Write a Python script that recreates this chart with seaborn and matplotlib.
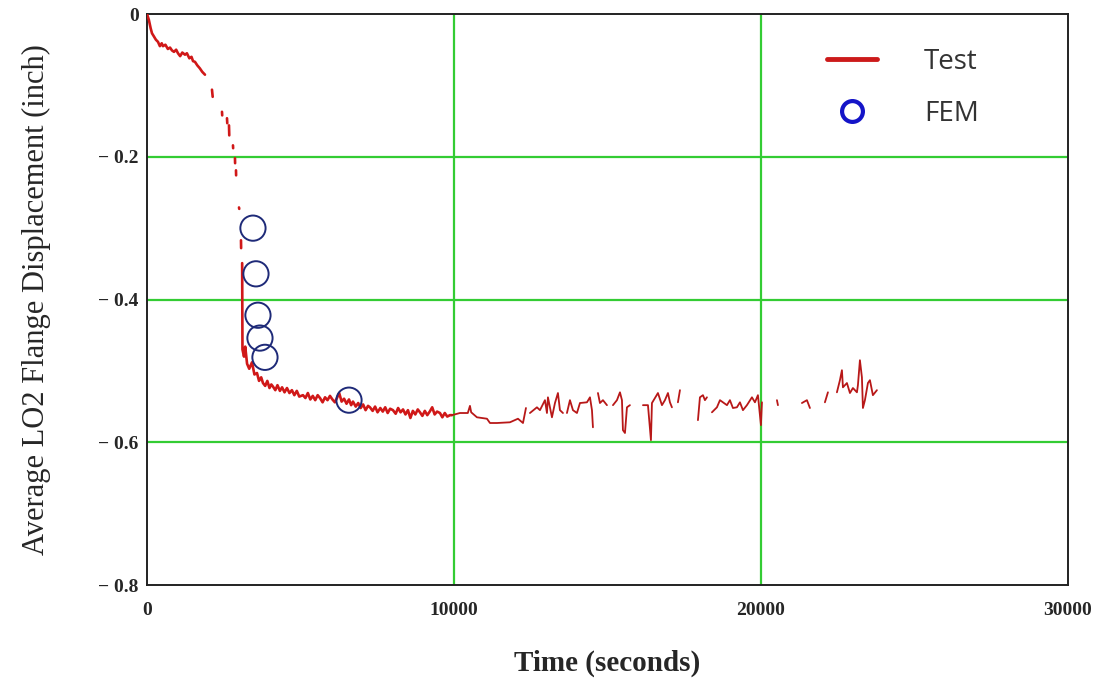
import numpy as np
import pandas as pd
import matplotlib.pyplot as plt
import seaborn as sns
from matplotlib.lines import Line2D

nan = np.nan

# Test curve, NaN marks a gap in the record
test_time = [
    0, 60, 120, 163, 220, 290, 358, 420, 480, 521, 600, 680, 750, 814, 880, 950,
    1010, 1080, 1150, 1238, 1300, 1380, 1450, 1500, 1563, 1640, 1720, 1800, 1889, nan,
    2117, 2140, nan, 2443, 2450, nan, 2606, 2615, nan, 2671, 2680, nan,
    2801, 2806, nan, 2866, 2870, nan, 2899, 2903, nan, 2997, 3005, nan,
    3062, 3066, nan,
    3100, 3110, 3160, 3200, 3260, 3330, 3420, 3500, 3583, 3650, 3720, 3778, 3850,
    3920, 3990, 4050, 4104, 4180, 4250, 4330, 4400, 4480, 4560, 4640, 4720, 4800,
    4880, 4960, 5081, 5160, 5240, 5320, 5400, 5480, 5560, 5635, 5720, 5800, 5880,
    5960, 6040, 6120, 6188, 6260, 6340, 6420, 6500, 6580, 6650, 6710, 6800, 6880,
    6960, 7040, 7120, 7200, 7263, 7350, 7430, 7510, 7600, 7680, 7760, 7840, 7920,
    8012, 8100, 8180, 8260, 8340, 8420, 8500, 8580, 8660, 8740, 8820, 8892, 8970,
    9050, 9130, 9210, 9290, 9370, 9450, 9543, 9620, 9700, 9780, 9869, 9934,
    10194, 10450, 10520, 10560, 10748, 11074, 11172, 11400, 11823, 12084, 12247, 12344, nan,
    12474, 12702, 12800, 12963, 13028, 13060, 13191, 13289, 13386, 13451, 13549, nan,
    13679, 13777, 13875, 14005, 14103, 14331, 14429, 14494, 14526, nan,
    14689, 14754, 14852, 14982, nan,
    15178, 15308, 15406, 15471, 15503, 15569, 15634, 15731, nan,
    15985, 16000, nan,
    16155, 16318, 16415, 16448, 16546, 16643, 16774, 16871, 16969, 17034, 17099, nan,
    17294, 17360, nan,
    17946, 18011, 18109, 18174, 18239, nan,
    18402, 18565, 18663, 18760, 18891, 18988, 19086, 19216, 19314, 19412, 19542,
    19705, 19803, 19900, 19998, 20031, nan,
    20220, 20235, nan, 20519, 20552, nan, 20870, 20885, nan,
    21333, 21496, 21594, nan, 22082, 22180, nan,
    22473, 22571, 22636, 22669, 22799, 22897, 22994, 23125, 23157, 23222, 23287,
    23320, 23385, 23483, 23548, 23645, 23776,
]
test_disp = [
    0.000, -0.008, -0.020, -0.027, -0.031, -0.036, -0.039, -0.045, -0.041, -0.045,
    -0.043, -0.049, -0.047, -0.051, -0.053, -0.050, -0.055, -0.059, -0.054, -0.057,
    -0.055, -0.062, -0.060, -0.066, -0.067, -0.072, -0.076, -0.081, -0.085, nan,
    -0.106, -0.116, nan, -0.137, -0.142, nan, -0.146, -0.153, nan, -0.156, -0.170, nan,
    -0.184, -0.188, nan, -0.202, -0.209, nan, -0.219, -0.226, nan, -0.271, -0.273, nan,
    -0.317, -0.328, nan,
    -0.349, -0.470, -0.480, -0.466, -0.490, -0.497, -0.488, -0.505, -0.503, -0.514,
    -0.509, -0.517, -0.521, -0.514, -0.524, -0.519, -0.522, -0.527, -0.520, -0.528,
    -0.523, -0.530, -0.524, -0.531, -0.527, -0.534, -0.528, -0.536, -0.534, -0.538,
    -0.531, -0.540, -0.535, -0.541, -0.534, -0.538, -0.544, -0.537, -0.541, -0.535,
    -0.540, -0.544, -0.538, -0.531, -0.543, -0.539, -0.546, -0.540, -0.548, -0.543,
    -0.550, -0.545, -0.552, -0.547, -0.555, -0.549, -0.551, -0.556, -0.550, -0.558,
    -0.552, -0.557, -0.551, -0.559, -0.553, -0.555, -0.560, -0.552, -0.558, -0.554,
    -0.561, -0.555, -0.566, -0.556, -0.561, -0.554, -0.558, -0.563, -0.556, -0.562,
    -0.557, -0.551, -0.561, -0.557, -0.559, -0.565, -0.559, -0.564, -0.562, -0.562,
    -0.559, -0.559, -0.549, -0.558, -0.565, -0.567, -0.573, -0.573, -0.572, -0.567,
    -0.573, -0.552, nan,
    -0.559, -0.551, -0.555, -0.541, -0.559, -0.537, -0.565, -0.545, -0.531, -0.555,
    -0.559, nan,
    -0.559, -0.541, -0.555, -0.559, -0.545, -0.544, -0.537, -0.555, -0.579, nan,
    -0.531, -0.545, -0.541, -0.548, nan,
    -0.548, -0.541, -0.530, -0.541, -0.583, -0.587, -0.551, -0.548, nan,
    -0.555, -0.555, nan,
    -0.548, -0.548, -0.597, -0.545, -0.538, -0.531, -0.548, -0.541, -0.531, -0.544,
    -0.551, nan,
    -0.544, -0.527, nan,
    -0.569, -0.537, -0.534, -0.541, -0.537, nan,
    -0.558, -0.551, -0.541, -0.544, -0.548, -0.541, -0.552, -0.551, -0.544, -0.555,
    -0.548, -0.537, -0.544, -0.534, -0.576, -0.544, nan,
    -0.544, -0.544, nan, -0.541, -0.548, nan, -0.544, -0.544, nan,
    -0.545, -0.541, -0.552, nan, -0.544, -0.530, nan,
    -0.530, -0.513, -0.499, -0.523, -0.517, -0.531, -0.524, -0.530, -0.520, -0.485,
    -0.509, -0.552, -0.541, -0.517, -0.513, -0.534, -0.527,
]

# FEM results
fem_time = [3452, 3550, 3615, 3680, 3843, 6580]
fem_disp = [-0.300, -0.364, -0.422, -0.454, -0.481, -0.541]

test_df = pd.DataFrame({"t": test_time, "d": test_disp})
test_df["seg"] = test_df["t"].isna().cumsum()
test_df = test_df.dropna()
fem_df = pd.DataFrame({"t": fem_time, "d": fem_disp})

early = test_df[test_df["t"] <= 9934]
late = test_df[test_df["t"] >= 9934]

sns.set_style("white")

fig = plt.figure(figsize=(11.11, 6.84), dpi=100)
ax = fig.add_axes([0.1323, 0.1447, 0.829, 0.8348])

# green grid
for gx in [10000, 20000]:
    ax.axvline(gx, color="#33cc33", lw=1.6, zorder=1)
for gy in [-0.2, -0.4, -0.6]:
    ax.axhline(gy, color="#33cc33", lw=1.6, zorder=1)

sns.lineplot(data=early, x="t", y="d", units="seg", estimator=None, sort=False,
             color="#d01818", lw=1.9, ax=ax, zorder=3)
sns.lineplot(data=late, x="t", y="d", units="seg", estimator=None, sort=False,
             color="#b81818", lw=1.3, ax=ax, zorder=3)
sns.scatterplot(data=fem_df, x="t", y="d", marker="o", s=330, facecolors="none",
                edgecolor="#1e2a78", linewidth=1.4, ax=ax, zorder=4)

ax.set_xlim(0, 30000)
ax.set_ylim(-0.8, 0)
ax.set_xticks([0, 10000, 20000, 30000])
ax.set_yticks([0, -0.2, -0.4, -0.6, -0.8])
ax.set_yticklabels(["0", "\u2212 0.2", "\u2212 0.4", "\u2212 0.6", "\u2212 0.8"])
tick_font = dict(family="Liberation Serif", weight="bold", size=14)
for lab in ax.get_xticklabels() + ax.get_yticklabels():
    lab.set_fontproperties(tick_font)
ax.tick_params(axis="y", length=0, pad=6)
ax.tick_params(axis="x", length=0, pad=12)

for side in ["left", "bottom", "top", "right"]:
    ax.spines[side].set_visible(True)
    ax.spines[side].set_color("#222222")
    ax.spines[side].set_linewidth(1.4)

ax.set_xlabel("Time (seconds)", family="Liberation Serif", weight="bold", size=21, labelpad=22)
ax.set_ylabel("Average LO2 Flange Displacement (inch)", family="Liberation Serif",
              size=22, labelpad=34)

handles = [
    Line2D([], [], color="#cc1a1a", lw=3.5),
    Line2D([], [], marker="o", ls="none", markersize=15, markerfacecolor="none",
           markeredgecolor="#1414c8", markeredgewidth=3),
]
leg = ax.legend(handles, ["Test", "FEM"], loc="upper left", bbox_to_anchor=(0.726, 0.96),
                borderaxespad=0, frameon=False, prop=dict(family="Open Sans", size=20),
                handlelength=1.8, handletextpad=1.7, labelspacing=0.85)
for txt in leg.get_texts():
    txt.set_color("#333333")

fig.savefig("out.png", dpi=100)
